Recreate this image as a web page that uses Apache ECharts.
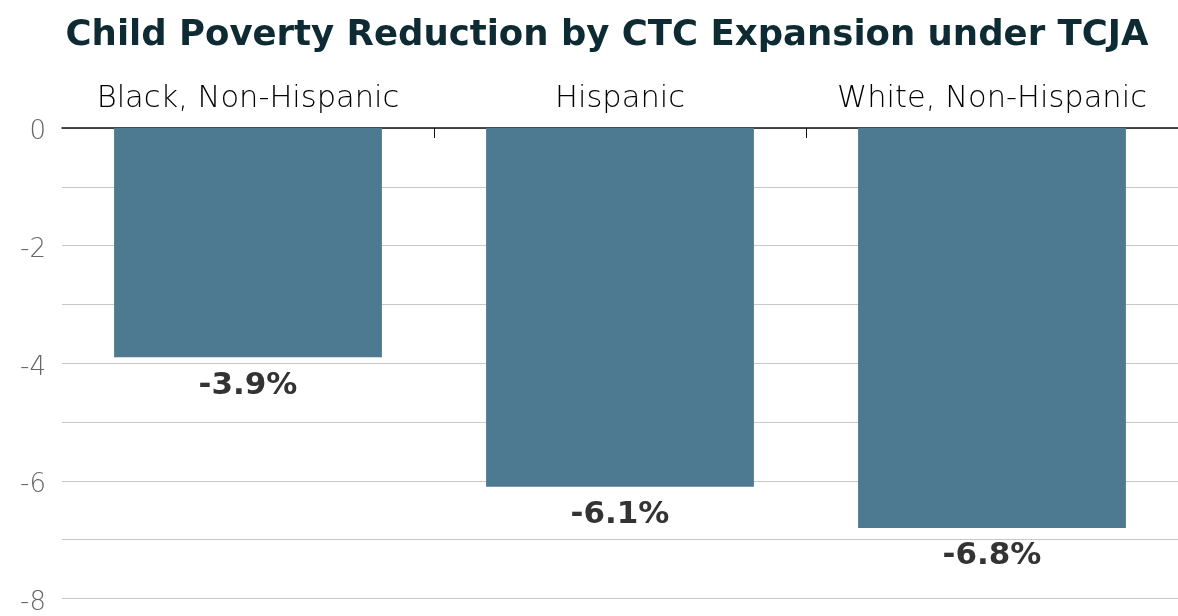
<!DOCTYPE html>
<html>
<head>
<meta charset="utf-8">
<script src="https://cdn.jsdelivr.net/npm/echarts@6/dist/echarts.min.js"></script>
<style>
html,body{margin:0;padding:0;background:#fff;}
#chart{width:1178px;height:616px;}
</style>
</head>
<body>
<div id="chart"></div>
<script>
const titleText = 'Child Poverty Reduction by CTC Expansion under TCJA';
const categories = ['Black, Non-Hispanic', 'Hispanic', 'White, Non-Hispanic'];
const values = [-3.9, -6.1, -6.8];
const yMin = -8, yMax = 0, yStep = 1;

const chart = echarts.init(document.getElementById('chart'));
chart.setOption({
  animation: false,
  title: {
    text: titleText,
    left: 602,
    textAlign: 'center',
    top: 13,
    textStyle: { fontFamily: '"DejaVu Sans", sans-serif', fontWeight: 'bold', fontSize: 35.5, color: '#0e2a33' }
  },
  grid: { left: 62, right: 0, top: 128, bottom: 17, containLabel: false },
  xAxis: {
    type: 'category',
    position: 'top',
    data: categories,
    axisLine: { show: true, lineStyle: { color: '#111', width: 1.5 } },
    axisTick: { show: true, inside: true, length: 10, interval: (i) => i > 0, lineStyle: { color: '#111' } },
    axisLabel: { interval: 0, hideOverlap: false, margin: 13, fontFamily: '"DejaVu Sans", sans-serif', fontWeight: 200, fontSize: 30.5, color: '#000' }
  },
  yAxis: {
    type: 'value',
    min: yMin, max: yMax, interval: yStep,
    axisLine: { show: false },
    axisTick: { show: false },
    axisLabel: {
      margin: 16,
      fontFamily: '"DejaVu Sans", sans-serif', fontWeight: 200, fontSize: 26, color: '#666',
      formatter: v => (Math.round(v) % 2 === 0 ? '{a|' + v + '}' : ''),
      rich: {
        a: { padding: [9, 0, 0, 0], fontFamily: '"DejaVu Sans", sans-serif', fontWeight: 200, fontSize: 26, color: '#666' }
      }
    },
    splitLine: { show: true, lineStyle: { color: '#c8c8c8', width: 1 } }
  },
  series: [{
    type: 'bar',
    data: values,
    barWidth: '72%',
    itemStyle: { color: '#4e7a91' },
    label: {
      show: true,
      position: 'bottom',
      distance: 13,
      formatter: p => p.value.toFixed(1) + '%',
      fontFamily: '"DejaVu Sans", sans-serif', fontWeight: 'bold', fontSize: 31, color: '#333'
    }
  }]
});
</script>
</body>
</html>
